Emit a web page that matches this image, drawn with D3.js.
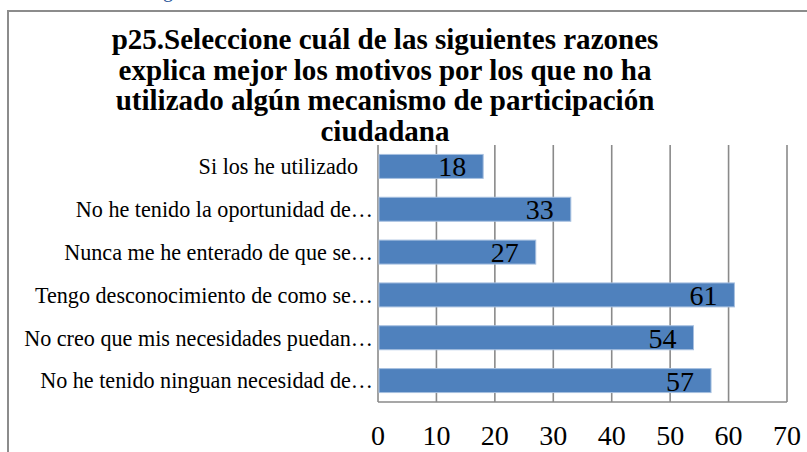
<!DOCTYPE html>
<html>
<head>
<meta charset="utf-8">
<script src="https://cdn.jsdelivr.net/npm/d3@7"></script>
<style>
    body { margin: 0; background: #fff; }
    svg { display: block; }
    text { font-family: 'Liberation Serif', 'DejaVu Serif', serif; }
</style>
</head>
<body>
<div id="chart"></div>
<script>
// Data
var categories = [
    'Si los he utilizado',
    'No he tenido la oportunidad de…',
    'Nunca me he enterado de que se…',
    'Tengo desconocimiento de como se…',
    'No creo que mis necesidades puedan…',
    'No he tenido ninguan necesidad de…'
];
var values = [18, 33, 27, 61, 54, 57];
var xTicks = [0, 10, 20, 30, 40, 50, 60, 70];
var titleLines = [
    'p25.Seleccione cuál de las siguientes razones',
    'explica mejor los motivos por los que no ha',
    'utilizado algún mecanismo de participación',
    'ciudadana'
];

var W = 807, H = 452;
var svg = d3.select('#chart').append('svg')
    .attr('width', W)
    .attr('height', H);

// cropped document text above the chart
svg.append('text')
    .attr('x', 163).attr('y', -3)
    .attr('font-family', 'Calibri, Carlito, sans-serif')
    .attr('font-size', 20)
    .attr('fill', '#2a5699')
    .text('g');

// Chart frame
svg.append('path')
    .attr('d', 'M8,' + H + ' L8,11 L' + (W + 2) + ',11')
    .attr('fill', 'none')
    .attr('stroke', '#8c8c8c')
    .attr('stroke-width', 2);

// Title
var title = svg.append('g');
titleLines.forEach(function(t, i) {
    title.append('text')
        .attr('x', 385)
        .attr('y', 49 + i * 30.5)
        .attr('text-anchor', 'middle')
        .attr('font-weight', 'bold')
        .attr('font-size', 27)
        .attr('fill', '#000')
        .text(t);
});
// fit title width to reference (~547px for the first line)
var first = title.select('text').node();
var tw = first.getComputedTextLength();
var fs = 27 * 547 / tw;
title.selectAll('text').attr('font-size', Math.min(fs, 30));

// Scales
var x = d3.scaleLinear().domain([0, 70]).range([378, 787]);
var y = d3.scaleBand().domain(categories).range([145, 402])
    .paddingInner(0.44).paddingOuter(0.22);

// Grid lines
svg.append('g')
    .selectAll('line')
    .data(xTicks)
    .enter().append('line')
    .attr('x1', function(d) { return x(d); })
    .attr('x2', function(d) { return x(d); })
    .attr('y1', 145)
    .attr('y2', 402)
    .attr('stroke', '#8a8a8a')
    .attr('stroke-width', 1.6);

// Bottom axis line
svg.append('line')
    .attr('x1', x(0)).attr('x2', x(70))
    .attr('y1', 402).attr('y2', 402)
    .attr('stroke', '#8a8a8a')
    .attr('stroke-width', 1.6);

// Bars
svg.append('g')
    .selectAll('rect')
    .data(values)
    .enter().append('rect')
    .attr('x', x(0) + 1)
    .attr('y', function(d, i) { return y(categories[i]); })
    .attr('width', function(d) { return x(d) - x(0) - 1; })
    .attr('height', y.bandwidth())
    .attr('fill', '#4f81bd')
    .attr('stroke', '#a7c0e0')
    .attr('stroke-width', 1);

// Value labels
svg.append('g')
    .selectAll('text')
    .data(values)
    .enter().append('text')
    .attr('x', function(d) { return x(d) - 17; })
    .attr('y', function(d, i) { return y(categories[i]) + y.bandwidth() - 2; })
    .attr('text-anchor', 'end')
    .attr('font-size', 28)
    .attr('fill', '#000')
    .text(function(d) { return d; });

// Category labels
var cat = svg.append('g')
    .selectAll('text')
    .data(categories)
    .enter().append('text')
    .attr('x', function(d, i) { return i === 0 ? 358 : 373; })
    .attr('y', function(d) { return y(d) + y.bandwidth() / 2; })
    .attr('dy', '0.35em')
    .attr('text-anchor', 'end')
    .attr('font-size', 20)
    .attr('fill', '#000')
    .text(function(d) { return d; });
// fit the widest label to ~349px
var lw = cat.nodes()[4].getComputedTextLength();
cat.attr('font-size', Math.min(20 * 349 / lw, 23));

// X axis tick labels
svg.append('g')
    .selectAll('text')
    .data(xTicks)
    .enter().append('text')
    .attr('x', function(d) { return x(d); })
    .attr('y', 445)
    .attr('text-anchor', 'middle')
    .attr('font-size', 28)
    .attr('fill', '#000')
    .text(function(d) { return d; });
</script>
</body>
</html>
